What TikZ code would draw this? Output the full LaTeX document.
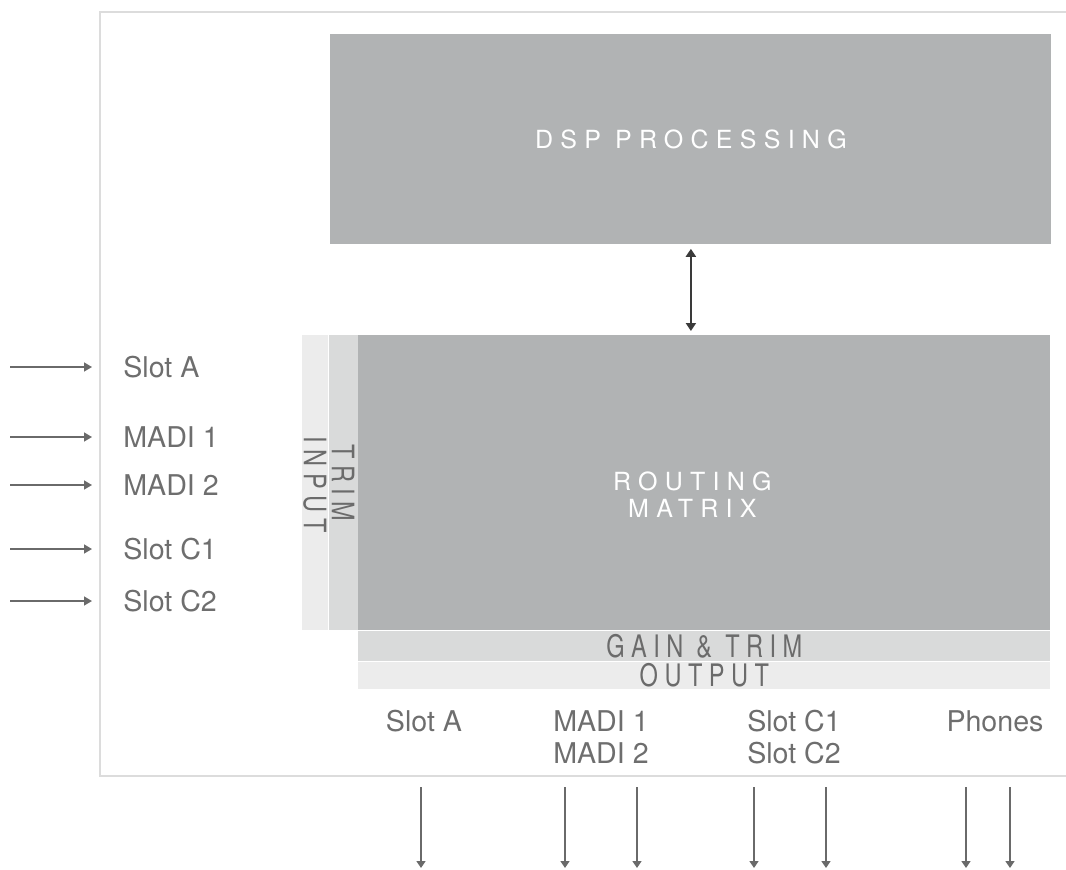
\documentclass[tikz,border=0pt]{standalone}
\usepackage{fontspec}
\setmainfont{TeX Gyre Heros}
\setsansfont{TeX Gyre Heros}
\newfontfamily\trackfont[LetterSpace=29]{TeX Gyre Heros}
\newfontfamily\narrowfont[LetterSpace=21,FakeStretch=0.76]{TeX Gyre Heros}
\usepackage{tikz}
\usetikzlibrary{arrows.meta,positioning}
\definecolor{block}{HTML}{B1B3B4}
\definecolor{stripmid}{HTML}{D9DADA}
\definecolor{striplight}{HTML}{ECECEC}
\definecolor{framegray}{HTML}{DCDCDC}
\definecolor{labelgray}{HTML}{6E6E6E}
\definecolor{stripgray}{HTML}{6B6B6B}
\definecolor{arrowgray}{HTML}{6A6A6A}
\definecolor{arrowdark}{HTML}{3A3A3A}
\tikzset{
  blockbox/.style={
    rectangle, fill=block, draw=none, anchor=north west,
    inner sep=0pt, text=white,
    font=\trackfont\fontsize{12.5}{13.5}\selectfont, align=center
  },
  stripbox/.style={
    rectangle, fill=#1, draw=none, inner sep=0pt
  },
  stripbox/.default=stripmid,
  striptext/.style={
    inner sep=0pt, text=stripgray,
    font=\narrowfont\fontsize{15.5}{16}\selectfont
  },
  portlabel/.style={
    inner sep=0pt, text=labelgray, align=center,
    font=\fontsize{14.3}{16}\selectfont
  },
  inarrow/.style={
    -{Triangle[length=4pt,width=4.5pt]}, line width=0.75pt, color=arrowgray
  },
  outarrow/.style={
    -{Triangle[length=3.5pt,width=4.5pt]}, line width=0.75pt, color=arrowgray
  },
  linkarrow/.style={
    {Triangle[length=4pt,width=5pt]}-{Triangle[length=4pt,width=5pt]},
    line width=1pt, color=arrowdark, shorten <=2pt, shorten >=2pt
  },
  framestyle/.style={
    draw=framegray, line width=1pt
  },
}

\begin{document}
\begin{tikzpicture}[x=0.5pt, y=-0.5pt]
  \useasboundingbox (0,0) rectangle (1066,869);

  % Frame
  \coordinate (frameNE) at (1066,12);
  \coordinate (frameNW) at (100,12);
  \coordinate (frameSW) at (100,776);
  \coordinate (frameSE) at (1066,776);
  \draw[framestyle] (frameNE) -- (frameNW) -- (frameSW) -- (frameSE);

  % DSP
  \node[blockbox, minimum width=360.5pt, minimum height=105pt] (dsp) at (330,34) {DSP PROCESSING};

  % Routing matrix and strips
  \node[blockbox, minimum width=346pt, minimum height=147.5pt] (matrix) at (358,335) {};
  \node[portlabel, text=white, font=\trackfont\fontsize{12.5}{13.5}\selectfont]
    (matrixtxt) at ([xshift=-6pt, yshift=-6pt]matrix.center) {ROUTING\\MATRIX};
  \node[stripbox=stripmid, anchor=north east, minimum width=14.5pt, minimum height=147.5pt]
    (trim) at (matrix.north west) {};
  \node[stripbox=striplight, anchor=north east, minimum width=13pt, minimum height=147.5pt]
    (input) at (trim.north west) {};
  \node[stripbox=stripmid, anchor=north west, minimum width=346pt, minimum height=15pt]
    (gain) at (matrix.south west) {};
  \node[stripbox=striplight, anchor=north west, minimum width=346pt, minimum height=13.5pt]
    (output) at (gain.south west) {};

  \node[striptext, rotate=-90] (trimtxt) at (trim.center) {TRIM};
  \node[striptext, rotate=-90] (inputtxt) at ([yshift=-1pt]input.center) {INPUT};
  \node[striptext] (gaintxt) at (gain.center) {GAIN \& TRIM};
  \node[striptext] (outputtxt) at (output.center) {OUTPUT};

  \draw[linkarrow] (dsp.south) -- (dsp.south |- matrix.north);

  % Inputs
  \node[portlabel, anchor=west] (inSlotA) at (123,367) {Slot A};
  \node[portlabel, anchor=west] (inMadiA) at (123,437) {MADI 1};
  \node[portlabel, anchor=west] (inMadiB) at (123,485) {MADI 2};
  \node[portlabel, anchor=west] (inSlotCA) at (123,549) {Slot C1};
  \node[portlabel, anchor=west] (inSlotCB) at (123,601) {Slot C2};
  \coordinate (srcSlotA) at (10,367);
  \coordinate (srcMadiA) at (10,437);
  \coordinate (srcMadiB) at (10,485);
  \coordinate (srcSlotCA) at (10,549);
  \coordinate (srcSlotCB) at (10,601);
  \draw[inarrow, shorten >=15.5pt] (srcSlotA) -- (inSlotA.west);
  \draw[inarrow, shorten >=15.5pt] (srcMadiA) -- (inMadiA.west);
  \draw[inarrow, shorten >=15.5pt] (srcMadiB) -- (inMadiB.west);
  \draw[inarrow, shorten >=15.5pt] (srcSlotCA) -- (inSlotCA.west);
  \draw[inarrow, shorten >=15.5pt] (srcSlotCB) -- (inSlotCB.west);

  % Outputs
  \node[portlabel, anchor=north] (outSlotA) at (424,710) {Slot A};
  \node[portlabel, anchor=north] (outMadi) at (601,710) {MADI 1\\MADI 2};
  \node[portlabel, anchor=north] (outSlotC) at (794,710) {Slot C1\\Slot C2};
  \node[portlabel, anchor=north] (outPhones) at (995,710) {Phones};

  \foreach \xx [count=\i] in {421,565,637,754,826,966,1010} {
    \coordinate (otop\i) at (\xx,787);
    \coordinate (obot\i) at (\xx,868);
    \draw[outarrow] (otop\i) -- (obot\i);
  }
\end{tikzpicture}
\end{document}
